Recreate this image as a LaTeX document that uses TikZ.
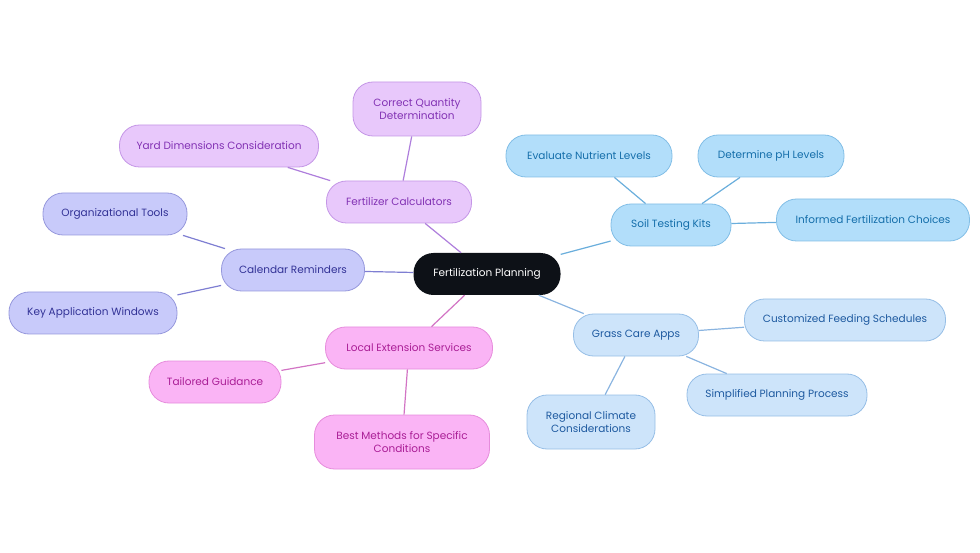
\documentclass[tikz,border=0pt]{standalone}
\usepackage{fontspec}
\setmainfont{Poppins}
\usepackage{xcolor}
\usepackage{tikz}

\definecolor{rootfill}{HTML}{0D1117}
\definecolor{purfill}{HTML}{E8C8FB}
\definecolor{purdraw}{HTML}{C496E6}
\definecolor{purtext}{HTML}{8232B4}
\definecolor{purline}{HTML}{AE7EDC}
\definecolor{calfill}{HTML}{C8CAFA}
\definecolor{caldraw}{HTML}{9698DC}
\definecolor{caltext}{HTML}{323296}
\definecolor{calline}{HTML}{7E7ED2}
\definecolor{pinkfill}{HTML}{FAB4F5}
\definecolor{pinkdraw}{HTML}{E68CDC}
\definecolor{pinktext}{HTML}{AA1E96}
\definecolor{pinkline}{HTML}{D274C4}
\definecolor{soilfill}{HTML}{B2DEFA}
\definecolor{soildraw}{HTML}{82BEE6}
\definecolor{soiltext}{HTML}{146EAA}
\definecolor{soilline}{HTML}{6AAEDC}
\definecolor{grassfill}{HTML}{CDE4FA}
\definecolor{grassdraw}{HTML}{96BEE6}
\definecolor{grasstext}{HTML}{1E5AA0}
\definecolor{grassline}{HTML}{8AB4E0}

\begin{document}
\begin{tikzpicture}[
  x=1pt, y=-1pt,
  box/.style 2 args={draw=#1draw, fill=#1fill, text=#1text, rounded corners=20pt,
              line width=0.8pt, minimum height=42pt, font=\fontsize{10.5}{12.5}\selectfont,
              align=center, inner sep=0pt, minimum width=#2},
  tall/.style={minimum height=54pt},
  link/.style={line width=1.2pt, draw=#1line}
]
  \useasboundingbox (0,0) rectangle (980,553);

  % Root
  \node[draw=none, fill=rootfill, text=white, rounded corners=20pt, minimum width=147pt,
        minimum height=42pt, inner sep=0pt, font=\fontsize{10.5}{12.5}\selectfont] (root) at (487,274) {Fertilization Planning};

  % Fertilizer branch
  \node[box={pur}{145pt}] (calc) at (399,202) {Fertilizer Calculators};
  \node[box={pur}{128pt}, tall] (quant) at (417,109) {Correct Quantity\\Determination};
  \node[box={pur}{199pt}] (yard) at (219,146) {Yard Dimensions Consideration};

  % Calendar branch
  \node[box={cal}{143pt}] (cal) at (293,270) {Calendar Reminders};
  \node[box={cal}{144pt}] (org) at (115,214) {Organizational Tools};
  \node[box={cal}{168pt}] (keyapp) at (93,313) {Key Application Windows};

  % Extension branch
  \node[box={pink}{167pt}] (ext) at (409,348) {Local Extension Services};
  \node[box={pink}{132pt}] (guide) at (215,382) {Tailored Guidance};
  \node[box={pink}{175pt}, tall] (best) at (402,442) {Best Methods for Specific\\Conditions};

  % Soil branch
  \node[box={soil}{120pt}] (soil) at (671,225) {Soil Testing Kits};
  \node[box={soil}{166pt}] (nutr) at (589,156) {Evaluate Nutrient Levels};
  \node[box={soil}{146pt}] (ph) at (771,156) {Determine pH Levels};
  \node[box={soil}{193pt}] (choice) at (873,220) {Informed Fertilization Choices};

  % Grass branch
  \node[box={grass}{125pt}] (apps) at (636,335) {Grass Care Apps};
  \node[box={grass}{201pt}] (feed) at (845,320) {Customized Feeding Schedules};
  \node[box={grass}{180pt}] (simple) at (777,395) {Simplified Planning Process};
  \node[box={grass}{128pt}, tall] (region) at (591,422) {Regional Climate\\Considerations};

  % Links
  \draw[link=pur] (root) -- (calc);
  \draw[link=pur] (calc) -- (quant);
  \draw[link=pur] (calc) -- (yard);
  \draw[link=cal] (root) -- (cal);
  \draw[link=cal] (cal) -- (org);
  \draw[link=cal] (cal) -- (keyapp);
  \draw[link=pink] (root) -- (ext);
  \draw[link=pink] (ext) -- (guide);
  \draw[link=pink] (ext) -- (best);
  \draw[link=soil] (root) -- (soil);
  \draw[link=soil] (soil) -- (nutr);
  \draw[link=soil] (soil) -- (ph);
  \draw[link=soil] (soil) -- (choice);
  \draw[link=grass] (root) -- (apps);
  \draw[link=grass] (apps) -- (feed);
  \draw[link=grass] (apps) -- (simple);
  \draw[link=grass] (apps) -- (region);
\end{tikzpicture}
\end{document}
